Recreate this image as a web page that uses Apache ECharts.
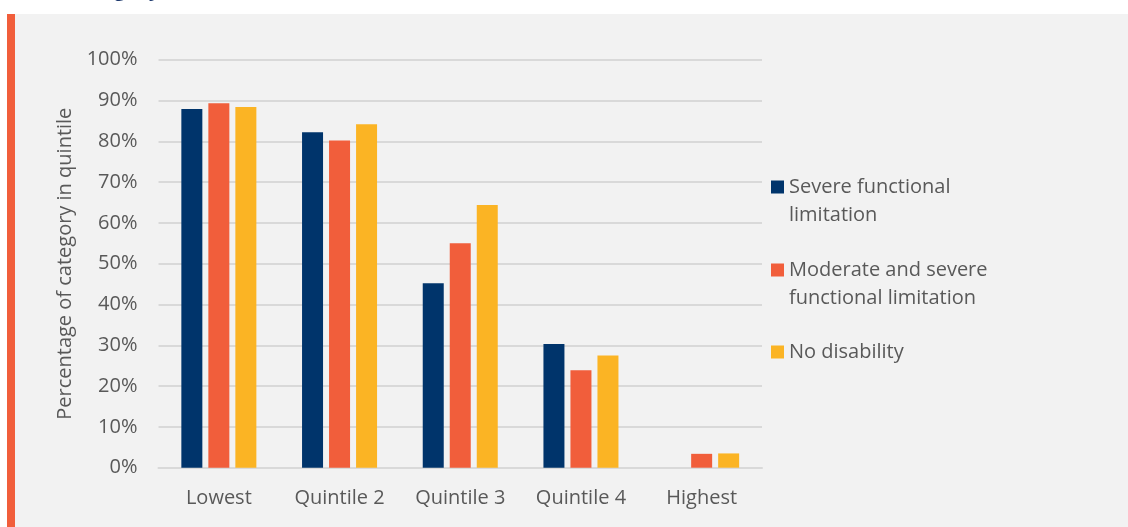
<!DOCTYPE html>
<html>
<head>
<meta charset="utf-8">
<script src="https://cdn.jsdelivr.net/npm/echarts@6/dist/echarts.min.js"></script>
<style>
html,body{margin:0;padding:0;background:#ffffff;}
#chart{width:1128px;height:527px;}
</style>
</head>
<body>
<div id="chart"></div>
<script>
const categories = ['Lowest', 'Quintile 2', 'Quintile 3', 'Quintile 4', 'Highest'];
const severe = [87.9, 82.2, 45.2, 30.3, 0];
const moderateSevere = [89.3, 80.2, 55.0, 23.9, 3.4];
const noDisability = [88.4, 84.2, 64.4, 27.5, 3.5];
const seriesNames = ['Severe functional\nlimitation', 'Moderate and severe\nfunctional limitation', 'No disability'];
const yTicks = [0, 10, 20, 30, 40, 50, 60, 70, 80, 90, 100];

const NAVY = '#00346b';
const ORANGE = '#f15e3b';
const YELLOW = '#fbb424';
const TXT = '#595959';
const FONT = '"Open Sans", "Noto Sans", sans-serif';
const FS = 20;

const chart = echarts.init(document.getElementById('chart'));
const twoLineIcon = 'path://M0,0L0,0M0,7.5H13V20.5H0ZM0,56L0,56';
const legendCommon = {
  orient: 'vertical', left: 771, itemWidth: 13, itemGap: 0, padding: 0,
  selectedMode: false,
  textStyle: { color: TXT, fontSize: FS, fontFamily: FONT, lineHeight: 28 }
};

chart.setOption({
  backgroundColor: 'transparent',
  animation: false,
  graphic: [
    { type: 'rect', shape: { x: 7, y: 14, width: 1121, height: 513 }, style: { fill: '#f2f2f2' }, z: -10 },
    { type: 'rect', shape: { x: 7, y: 14, width: 8, height: 513 }, style: { fill: '#f15e3b' }, z: -9 },
    { type: 'text', left: 7, top: -20, style: { text: '(each category)', fill: '#1f3a6e', font: 'bold 21px ' + FONT }, z: -11 }
  ],
  grid: { left: 158.5, right: 366, top: 59.7, bottom: 59.3 },
  legend: [
    Object.assign({}, legendCommon, { top: 173, itemHeight: 56, data: [{ name: seriesNames[0], icon: twoLineIcon }] }),
    Object.assign({}, legendCommon, { top: 256, itemHeight: 56, data: [{ name: seriesNames[1], icon: twoLineIcon }] }),
    Object.assign({}, legendCommon, { top: 338, itemHeight: 13, data: [{ name: seriesNames[2], icon: 'rect' }] })
  ],
  xAxis: {
    type: 'category', data: categories,
    axisLine: { show: true, lineStyle: { color: '#d9d9d9', width: 2 } },
    axisTick: { show: false },
    axisLabel: { color: TXT, fontSize: FS, fontFamily: FONT, margin: 21 }
  },
  yAxis: {
    type: 'value', min: 0, max: 100, interval: 10,
    name: 'Percentage of category in quintile',
    nameLocation: 'middle', nameGap: 82,
    nameTextStyle: { color: TXT, fontSize: FS, fontFamily: FONT },
    axisLine: { show: false }, axisTick: { show: false },
    splitLine: { lineStyle: { color: '#d9d9d9', width: 2 } },
    axisLabel: { color: TXT, fontSize: FS, fontFamily: FONT, margin: 21,
      formatter: v => yTicks.includes(v) ? v + '%' : '' }
  },
  series: [
    { name: seriesNames[0], type: 'bar', data: severe, barWidth: 21, barGap: '28.6%', itemStyle: { color: NAVY } },
    { name: seriesNames[1], type: 'bar', data: moderateSevere, barWidth: 21, barGap: '28.6%', itemStyle: { color: ORANGE } },
    { name: seriesNames[2], type: 'bar', data: noDisability, barWidth: 21, barGap: '28.6%', itemStyle: { color: YELLOW } }
  ]
});
</script>
</body>
</html>
